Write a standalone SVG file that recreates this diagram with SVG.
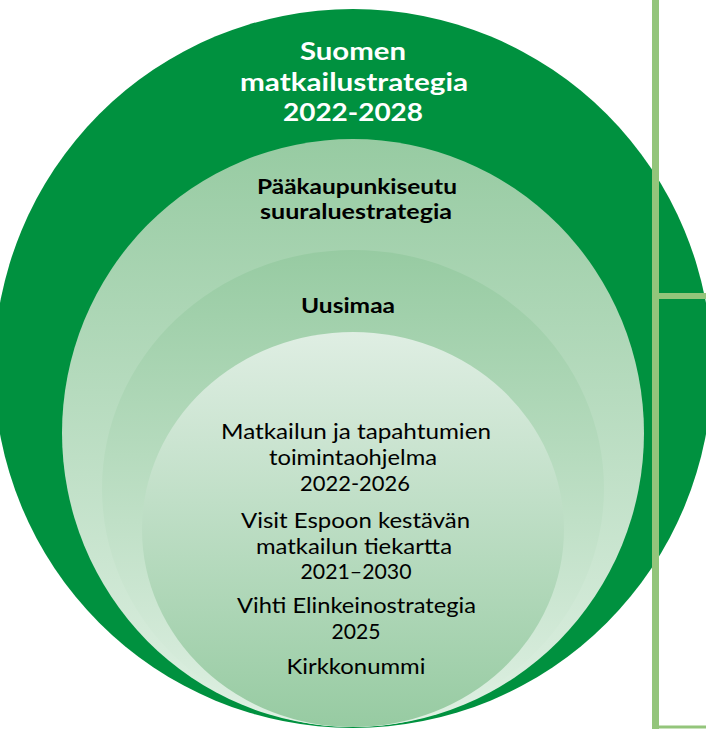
<svg xmlns="http://www.w3.org/2000/svg" width="706" height="729" viewBox="0 0 706 729">
  <defs>
    <linearGradient id="gDown" x1="0" y1="0" x2="0" y2="1">
      <stop offset="0" stop-color="#97cba2"/>
      <stop offset="1" stop-color="#dff0e3"/>
    </linearGradient>
    <linearGradient id="gUp" x1="0" y1="0" x2="0" y2="1">
      <stop offset="0" stop-color="#dfeee3"/>
      <stop offset="1" stop-color="#97cba2"/>
    </linearGradient>
    <style>
      .t { font-family: Lato, "Open Sans", "DejaVu Sans", sans-serif; text-anchor: middle; }
      .white { fill: #ffffff; font-weight: 700; font-size: 25px; }
      .bold { fill: #000000; font-weight: 700; font-size: 20.5px; }
      .reg { fill: #000000; font-weight: 400; font-size: 21px; }
      .brk { fill: #93c57b; }
    </style>
  </defs>
  <rect width="706" height="729" fill="#ffffff"/>

  <g id="suomen">
    <ellipse cx="353" cy="368.5" rx="359" ry="359.5" fill="#00913f"/>
    <text class="t white" x="353" y="60" textLength="106" lengthAdjust="spacingAndGlyphs">Suomen</text>
    <text class="t white" x="354" y="90.5" textLength="228" lengthAdjust="spacingAndGlyphs">matkailustrategia</text>
    <text class="t white" x="353" y="120.5" textLength="140" lengthAdjust="spacingAndGlyphs">2022-2028</text>
  </g>

  <g id="paakaupunkiseutu">
    <ellipse cx="353" cy="433" rx="291" ry="294" fill="url(#gDown)"/>
    <text class="t bold" x="357" y="194" textLength="200" lengthAdjust="spacingAndGlyphs">Pääkaupunkiseutu</text>
    <text class="t bold" x="356" y="219" textLength="192" lengthAdjust="spacingAndGlyphs">suuraluestrategia</text>
  </g>

  <g id="uusimaa">
    <ellipse cx="353" cy="488.5" rx="251" ry="238.5" fill="url(#gDown)"/>
    <text class="t bold" x="348" y="313" textLength="94" lengthAdjust="spacingAndGlyphs">Uusimaa</text>
  </g>

  <g id="paikalliset">
    <ellipse cx="353" cy="529.5" rx="211" ry="197.5" fill="url(#gUp)"/>
    <text class="t reg" x="356" y="439" textLength="270" lengthAdjust="spacingAndGlyphs">Matkailun ja tapahtumien</text>
    <text class="t reg" x="353" y="465" textLength="168" lengthAdjust="spacingAndGlyphs">toimintaohjelma</text>
    <text class="t reg" x="355" y="491" textLength="110" lengthAdjust="spacingAndGlyphs">2022-2026</text>
    <text class="t reg" x="355.5" y="528" textLength="229" lengthAdjust="spacingAndGlyphs">Visit Espoon kestävän</text>
    <text class="t reg" x="354" y="554" textLength="196" lengthAdjust="spacingAndGlyphs">matkailun tiekartta</text>
    <text class="t reg" x="356" y="579" textLength="111" lengthAdjust="spacingAndGlyphs">2021–2030</text>
    <text class="t reg" x="356.5" y="613" textLength="239" lengthAdjust="spacingAndGlyphs">Vihti Elinkeinostrategia</text>
    <text class="t reg" x="356" y="639" textLength="49" lengthAdjust="spacingAndGlyphs">2025</text>
    <text class="t reg" x="356" y="674" textLength="139" lengthAdjust="spacingAndGlyphs">Kirkkonummi</text>
  </g>

  <g id="bracket">
    <rect class="brk" x="652" y="0" width="7" height="729"/>
    <rect class="brk" x="659" y="293" width="47" height="6"/>
    <rect class="brk" x="659" y="725.5" width="47" height="3"/>
  </g>
</svg>
